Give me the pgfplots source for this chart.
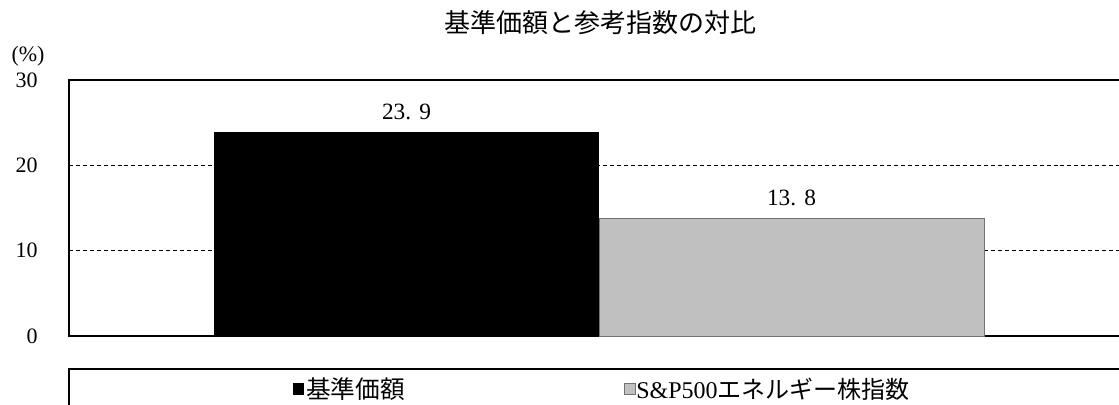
\documentclass[border=0pt]{standalone}
\usepackage{pgfplots}
\pgfplotsset{compat=1.18}
\usepackage{fontspec}
\setmainfont{Liberation Serif}
\newfontfamily\jp{Noto Sans CJK JP}
\definecolor{bargray}{RGB}{192,192,192}
\begin{document}
\begin{tikzpicture}[x=0.75pt,y=0.75pt]
\useasboundingbox (0,0) rectangle (1119,404);
\begin{axis}[
  at={(51.75pt,51pt)}, anchor=south west,
  scale only axis, width=789pt, height=192pt,
  xmin=0, xmax=1052, ymin=0, ymax=30,
  ytick={0,10,20,30}, xtick=\empty,
  major tick length=0pt,
  ymajorgrids, grid style={dash pattern=on 3pt off 2.2pt, black, line width=0.7pt},
  axis line style={black, line width=1.3pt},
  /pgf/number format/assume math mode=true,
  yticklabel style={font=\fontsize{16.5}{16.5}\selectfont, xshift=-20pt},
  nodes near coords,
  every node near coord/.append style={font=\fontsize{17.5}{17.5}\selectfont, anchor=south, yshift=6pt},
  nodes near coords={\pgfmathprintnumber[fixed,precision=1,fixed zerofill,dec sep={.\hspace{0.35em}}]{\pgfplotspointmeta}},
]
\addplot[ybar, bar width=385, bar shift=0, fill=black, draw=none] coordinates {(337.5,23.9)};
\addplot[ybar, bar width=385, bar shift=0, fill=bargray, draw=black!55, line width=0.6pt] coordinates {(722.5,13.8)};
\end{axis}
\node[font=\fontsize{16.5}{16.5}\selectfont] at (28,348) {(\%)};
\node[font=\jp\fontsize{19.5}{19.5}\selectfont] at (600,381) {基準価額と参考指数の対比};
\draw[line width=1.1pt] (69,35) rectangle (1130,-10);
\node[fill=black, minimum size=8.3pt, inner sep=0pt] at (298.5,15) {};
\node[anchor=west, font=\jp\fontsize{18.5}{18.5}\selectfont, inner sep=0pt] at (306,15) {基準価額};
\node[fill=bargray, draw=black!55, minimum size=8pt, inner sep=0pt] at (629.5,15) {};
\node[anchor=west, font=\fontsize{18}{18}\selectfont, inner sep=0pt] at (636,15) {S\&P500{\jp エネルギー株指数}};
\end{tikzpicture}
\end{document}
